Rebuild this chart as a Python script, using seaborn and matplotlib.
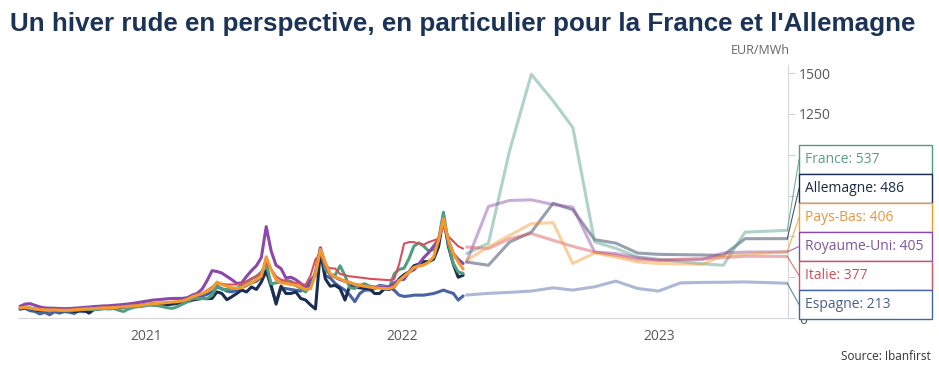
# Prix de l'électricité : historique hebdo + courbe à terme
import matplotlib
matplotlib.use("Agg")
import matplotlib.pyplot as plt
import matplotlib.dates as mdates
from matplotlib.patches import Rectangle
import seaborn as sns
import pandas as pd

countries = ["France", "Allemagne", "Pays-Bas", "Royaume-Uni", "Italie", "Espagne"]
colors = {"France": "#4f9e84", "Allemagne": "#1b2d50", "Pays-Bas": "#f39a2e",
          "Royaume-Uni": "#8b48a8", "Italie": "#d8505c", "Espagne": "#4862a6"}
text_colors = {"France": "#5a9e88", "Allemagne": "#1b2a44", "Pays-Bas": "#e8963a",
               "Royaume-Uni": "#7e55a0", "Italie": "#c9505a", "Espagne": "#4a5f8e"}

# historique, une valeur par semaine à partir du 4 janvier 2021
hist_dates = pd.date_range("2021-01-04", periods=91, freq="7D")

france = [60, 68, 62, 55, 50, 48, 45, 48, 46, 44, 45, 48, 50, 52, 54, 50, 56, 58, 55, 58, 48, 40, 55, 65, 70, 72,
          78, 80, 75, 69, 62, 59, 70, 85, 100, 118, 120, 120, 120, 140, 200, 175, 175, 180, 181, 200, 221, 240, 255, 280, 330, 210, 215,
          221, 230, 225, 200, 181, 160, 200, 270, 425, 300, 265, 262, 320, 260, 185, 181, 200, 210, 195, 190, 193, 195, 183, 270,
          298, 305, 364, 440, 460, 440, 410, 420, 476, 648, 455, 334, 282, 273]
allemagne = [55, 62, 58, 50, 45, 48, 42, 50, 45, 42, 45, 40, 42, 48, 30, 52, 55, 58, 60, 62, 64, 66, 70, 72, 74, 78,
             82, 80, 79, 79, 82, 85, 90, 95, 100, 110, 115, 120, 118, 120, 160, 150, 112, 130, 150, 171, 160, 190, 175, 220, 290, 200, 85,
             195, 150, 150, 160, 120, 110, 80, 55, 410, 240, 195, 200, 180, 110, 200, 190, 185, 181, 180, 150, 150, 178, 175, 190,
             240, 265, 282, 320, 330, 345, 345, 360, 435, 618, 440, 330, 250, 262]
pays_bas = [62, 66, 60, 55, 52, 50, 48, 50, 48, 47, 48, 50, 52, 55, 56, 58, 60, 62, 62, 64, 66, 68, 72, 74, 76, 80,
            85, 88, 90, 92, 95, 98, 100, 105, 115, 130, 140, 150, 165, 180, 220, 205, 195, 185, 181, 185, 205, 215, 235, 255, 375, 295, 235,
            215, 212, 205, 200, 190, 175, 180, 270, 420, 340, 270, 250, 240, 225, 218, 205, 200, 195, 190, 185, 182, 181, 180, 190,
            230, 255, 280, 310, 318, 325, 342, 374, 476, 608, 476, 395, 343, 300]
royaume_uni = [72, 85, 88, 78, 68, 62, 60, 60, 58, 57, 58, 60, 62, 65, 67, 70, 72, 74, 75, 78, 80, 83, 86, 90, 95, 100,
               105, 110, 112, 115, 118, 120, 120, 120, 125, 140, 151, 178, 230, 290, 285, 275, 255, 235, 212, 215, 255, 290, 320, 370, 560, 410, 323,
               303, 245, 250, 235, 212, 185, 195, 280, 430, 330, 265, 250, 235, 225, 215, 205, 200, 195, 190, 187, 187, 187, 190, 215,
               233, 237, 282, 295, 330, 370, 400, 440, 480, 598, 476, 395, 360, 334]
italie = [60, 63, 60, 56, 54, 52, 50, 51, 50, 49, 50, 51, 53, 56, 57, 59, 61, 63, 63, 65, 67, 69, 72, 75, 77, 80,
          85, 88, 90, 93, 95, 98, 100, 105, 112, 125, 140, 150, 170, 190, 215, 210, 205, 205, 205, 210, 225, 240, 255, 275, 340, 300, 255,
          235, 225, 222, 215, 210, 203, 260, 360, 390, 320, 305, 303, 270, 262, 255, 252, 248, 245, 240, 238, 236, 234, 232, 240,
          330, 455, 465, 465, 455, 450, 465, 475, 486, 557, 500, 470, 440, 425]
espagne = [55, 60, 45, 40, 25, 35, 20, 38, 30, 40, 35, 28, 45, 38, 50, 55, 58, 62, 60, 62, 65, 68, 72, 74, 78, 80,
           85, 88, 90, 90, 90, 92, 95, 100, 105, 115, 125, 135, 145, 160, 190, 180, 165, 160, 170, 185, 200, 215, 225, 250, 290, 190, 95,
           185, 180, 175, 170, 165, 180, 230, 262, 420, 260, 245, 212, 190, 170, 140, 100, 150, 171, 171, 180, 200, 195, 190, 170,
           140, 132, 135, 140, 140, 140, 145, 150, 160, 171, 160, 151, 110, 135]

# courbe à terme
fwd_dates = pd.to_datetime(["2022-10-01", "2022-11-01", "2022-12-01", "2023-01-01", "2023-02-01",
                            "2023-03-01", "2023-04-01", "2023-05-01", "2023-06-01", "2023-07-01",
                            "2023-08-01", "2023-09-01", "2023-10-01", "2023-11-01", "2023-12-31"])
france_fwd = [395, 458, 1024, 1493, 1330, 1167, 466, 427, 374, 360, 345, 332, 323, 526, 537]
allemagne_fwd = [343, 323, 465, 526, 703, 663, 480, 459, 398, 390, 388, 386, 384, 486, 486]
pays_bas_fwd = [354, 435, 506, 578, 584, 334, 398, 374, 343, 334, 331, 329, 384, 390, 406]
royaume_uni_fwd = [343, 683, 720, 724, 695, 679, 404, 395, 370, 354, 356, 358, 398, 404, 405]
italie_fwd = [435, 425, 486, 517, 476, 439, 404, 384, 358, 354, 360, 364, 370, 378, 377]
espagne_fwd = [141, 151, 157, 165, 185, 171, 191, 226, 181, 165, 215, 218, 219, 221, 213]

hist = {"France": france, "Allemagne": allemagne, "Pays-Bas": pays_bas,
        "Royaume-Uni": royaume_uni, "Italie": italie, "Espagne": espagne}
fwd = {"France": france_fwd, "Allemagne": allemagne_fwd, "Pays-Bas": pays_bas_fwd,
       "Royaume-Uni": royaume_uni_fwd, "Italie": italie_fwd, "Espagne": espagne_fwd}

sns.set_style("white")
plt.rcParams["font.family"] = ["Open Sans", "DejaVu Sans"]

fig = plt.figure(figsize=(9.39, 3.77), dpi=100)
ax = fig.add_axes([18 / 939, 59 / 377, 770 / 939, 253 / 377])

draw_order = ["Espagne", "Allemagne", "France", "Royaume-Uni", "Italie", "Pays-Bas"]
for i, name in enumerate(draw_order):
    lw = 1.5 if name == "Italie" else 2.2
    sns.lineplot(x=fwd_dates, y=fwd[name], color=colors[name], lw=2.2, alpha=0.45, ax=ax, zorder=2 + i)
    sns.lineplot(x=hist_dates, y=hist[name], color=colors[name], lw=lw, ax=ax, zorder=10 + i)

ax.set_xlim(pd.Timestamp("2021-01-01"), pd.Timestamp("2024-01-01"))
ax.set_ylim(0, 1550)
ax.set_xlabel("")
ax.set_ylabel("")

# axes
for side in ["left", "top"]:
    ax.spines[side].set_visible(False)
ax.spines["bottom"].set_color("#d6d6d6")
ax.spines["right"].set_color("#d6d6d6")
ax.yaxis.tick_right()
# les graduations 250-1000 sont cachées par les étiquettes
ax.set_yticks([0, 250, 500, 750, 1000, 1250, 1500])
ax.set_yticklabels(["0", "", "", "", "", "1250", "1500"])
ax.tick_params(axis="y", colors="#d0d0d0", labelcolor="#595959", labelsize=10, length=5, pad=3)

years = pd.to_datetime(["2021-01-01", "2022-01-01", "2023-01-01", "2024-01-01"])
mids = pd.to_datetime(["2021-07-02", "2022-07-02", "2023-07-02"])
ax.set_xticks(years)
ax.set_xticklabels(["", "", "", ""])
ax.set_xticks(mids, minor=True)
ax.set_xticklabels(["2021", "2022", "2023"], minor=True)
ax.tick_params(axis="x", which="major", colors="#8a8a8a", length=5, width=1)
ax.tick_params(axis="x", which="minor", length=0, labelcolor="#595959", labelsize=10, pad=8)

# étiquettes de fin
end_x = mdates.date2num(fwd_dates[-1])
for i, name in enumerate(countries):
    top = 145 + 29 * i
    bottom = (377 - top - 29) / 377
    fig.add_artist(Rectangle((799 / 939, bottom), 133 / 939, 29 / 377, transform=fig.transFigure,
                             facecolor="white", edgecolor=colors[name], lw=1, zorder=5))
    yc = (377 - top - 14.5) / 377
    fig.text(805 / 939, yc, f"{name}: {fwd[name][-1]}", color=text_colors[name],
             fontsize=10, va="center", ha="left", zorder=6)
    ax.annotate("", xy=(end_x, fwd[name][-1]), xycoords="data",
                xytext=(799 / 939, yc), textcoords="figure fraction",
                arrowprops=dict(arrowstyle="-", color=colors[name], lw=0.8, alpha=0.8,
                                shrinkA=0, shrinkB=0), annotation_clip=False)

fig.text(10 / 939, (377 - 31) / 377, "Un hiver rude en perspective, en particulier pour la France et l'Allemagne",
         family=["Liberation Sans", "DejaVu Sans"], fontweight="bold", fontsize=18.7, color="#1c3358", va="baseline")
fig.text(790 / 939, (377 - 50) / 377, "EUR/MWh", color="#666666", fontsize=9, ha="right", va="center")
fig.text(931 / 939, (377 - 357) / 377, "Source: Ibanfirst", color="#333333", fontsize=8.5, ha="right", va="center")

fig.savefig("out.png", dpi=100)
